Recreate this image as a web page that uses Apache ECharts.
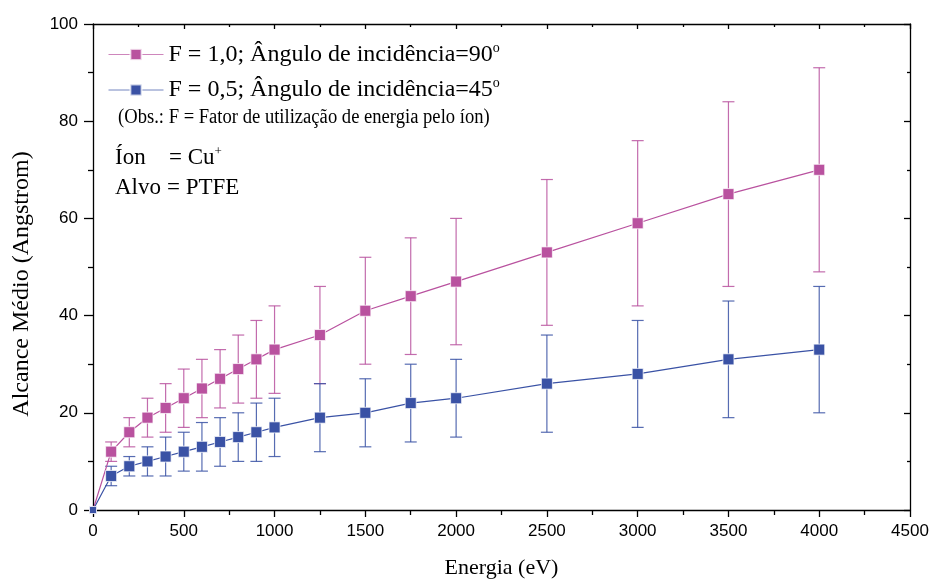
<!DOCTYPE html>
<html><head><meta charset="utf-8">
<script src="https://cdn.jsdelivr.net/npm/echarts@6/dist/echarts.min.js"></script>
<style>html,body{margin:0;padding:0;background:#fff}#c{width:934px;height:584px}</style>
</head><body><div id="c"></div>
<script>
const energies = [0,100,200,300,400,500,600,700,800,900,1000,1250,1500,1750,2000,2500,3000,3500,4000];
const rangeF10 = [0,12,16,19,21,23,25,27,29,31,33,36,41,44,47,53,59,65,70];
const errF10   = [0,2,3,4,5,6,6,6,7,8,9,10,11,12,13,15,17,19,21];
const rangeF05 = [0,7,9,10,11,12,13,14,15,16,17,19,20,22,23,26,28,31,33];
const errF05   = [0,2,2,3,4,4,5,5,5,6,6,7,7,8,8,10,11,12,13];
const xTicks = [0,500,1000,1500,2000,2500,3000,3500,4000,4500];
const yTicks = [0,20,40,60,80,100];
const nameF10 = 'F = 1,0; Ângulo de incidência=90';
const nameF05 = 'F = 0,5; Ângulo de incidência=45';
const colF10 = '#b9529f';
const colF05 = '#3a52a5';

const chart = echarts.init(document.getElementById('c'));
function pts(vals){ return energies.map((e,i)=>({value:[e,vals[i]], symbolSize: i===0?7:11})); }
function errData(vals, errs){ return energies.map((e,i)=>[e, vals[i]-errs[i], vals[i]+errs[i]]).filter((d,i)=>errs[i]>0); }
function errSeries(vals, errs, color){
  return {
    type:'custom', silent:true, z:2,
    data: errData(vals, errs),
    encode:{x:0,y:[1,2]},
    renderItem:function(params, api){
      const x = api.value(0);
      const lo = api.coord([x, api.value(1)]);
      const hi = api.coord([x, api.value(2)]);
      const w = 6;
      const st = {stroke: color, lineWidth: 1.2, opacity: 0.85};
      return {type:'group', children:[
        {type:'line', shape:{x1:lo[0],y1:lo[1],x2:hi[0],y2:hi[1]}, style:st},
        {type:'line', shape:{x1:lo[0]-w,y1:lo[1],x2:lo[0]+w,y2:lo[1]}, style:st},
        {type:'line', shape:{x1:hi[0]-w,y1:hi[1],x2:hi[0]+w,y2:hi[1]}, style:st}
      ]};
    }
  };
}
const serif = 'Liberation Serif';
const sans = 'Liberation Sans';
const axisCommon = {
  axisLine:{show:true, onZero:false, lineStyle:{color:'#000', width:1.3}},
  splitLine:{show:false}
};
chart.setOption({
  animation:false,
  backgroundColor:'#fff',
  grid:{left:93, right:24, top:24, bottom:71},
  legend:{
    orient:'vertical', left:103, top:36, itemWidth:55, itemHeight:14, itemGap:10,
    data:[nameF10, nameF05],
    lineStyle:{width:1, opacity:0.7},
    formatter: n => n + '{sup|o}',
    textStyle:{fontFamily:serif, fontSize:24, color:'#000',
      rich:{sup:{fontFamily:serif, fontSize:14, color:'#000', padding:[0,0,13,0]}}}
  },
  xAxis:[
    Object.assign({type:'value', min:0, max:4500, interval:500, position:'bottom',
      name:'Energia (eV)', nameLocation:'middle', nameGap:47,
      nameTextStyle:{fontFamily:serif, fontSize:22, color:'#000'},
      axisTick:{show:true, inside:false, length:7, lineStyle:{color:'#000', width:1.3}},
      minorTick:{show:true, splitNumber:2, length:5, lineStyle:{color:'#000', width:1.3}},
      axisLabel:{fontFamily:sans, fontSize:17, color:'#000', margin:13,
        formatter: v => xTicks.includes(v) ? String(v) : ''}
    }, axisCommon),
    Object.assign({type:'value', min:0, max:4500, interval:500, position:'top',
      axisTick:{show:true, inside:true, length:5, lineStyle:{color:'#000', width:1.3}},
      minorTick:{show:true, splitNumber:2, length:3, lineStyle:{color:'#000', width:1.3}},
      axisLabel:{show:false}
    }, axisCommon)
  ],
  yAxis:[
    Object.assign({type:'value', min:0, max:100, interval:20, position:'left',
      axisTick:{show:true, inside:false, length:9, lineStyle:{color:'#000', width:1.3}},
      minorTick:{show:true, splitNumber:2, length:5, lineStyle:{color:'#000', width:1.3}},
      axisLabel:{fontFamily:sans, fontSize:17, color:'#000', margin:15,
        formatter: v => yTicks.includes(v) ? String(v) : ''}
    }, axisCommon),
    Object.assign({type:'value', min:0, max:100, interval:20, position:'right',
      axisTick:{show:true, inside:true, length:6, lineStyle:{color:'#000', width:1.3}},
      minorTick:{show:true, splitNumber:2, length:3, lineStyle:{color:'#000', width:1.3}},
      axisLabel:{show:false}
    }, axisCommon)
  ],
  series:[
    errSeries(rangeF10, errF10, colF10),
    errSeries(rangeF05, errF05, colF05),
    {name:nameF10, type:'line', data:pts(rangeF10), symbol:'rect', z:3,
      lineStyle:{color:colF10, width:1.2}, itemStyle:{color:colF10, borderColor:'rgba(255,255,255,0.7)', borderWidth:1}},
    {name:nameF05, type:'line', data:pts(rangeF05), symbol:'rect', z:4,
      lineStyle:{color:colF05, width:1.2}, itemStyle:{color:colF05, borderColor:'rgba(255,255,255,0.7)', borderWidth:1}}
  ],
  graphic:[
    {type:'text', x:22, y:284, rotation:Math.PI/2,
      style:{text:'Alcance Médio (Angstrom)', font:'24px "Liberation Serif"', fill:'#000', align:'center', verticalAlign:'middle'}},
    {type:'text', x:118, y:118, scaleX:0.93,
      style:{text:'(Obs.: F = Fator de utilização de energia pelo íon)', font:'20px "Liberation Serif"', fill:'#000', verticalAlign:'middle'}},
    {type:'text', x:115, y:158, style:{text:'Íon', font:'23px "Liberation Serif"', fill:'#000', verticalAlign:'middle'}},
    {type:'text', x:169, y:158, style:{text:'= Cu{sup|+}', font:'23px "Liberation Serif"', fill:'#000', verticalAlign:'middle',
      rich:{sup:{font:'13px "Liberation Serif"', fill:'#000', padding:[0,0,13,0]}}}},
    {type:'text', x:115, y:188, style:{text:'Alvo', font:'23px "Liberation Serif"', fill:'#000', verticalAlign:'middle'}},
    {type:'text', x:167, y:188, style:{text:'= PTFE', font:'23px "Liberation Serif"', fill:'#000', verticalAlign:'middle'}}
  ]
});
</script></body></html>
